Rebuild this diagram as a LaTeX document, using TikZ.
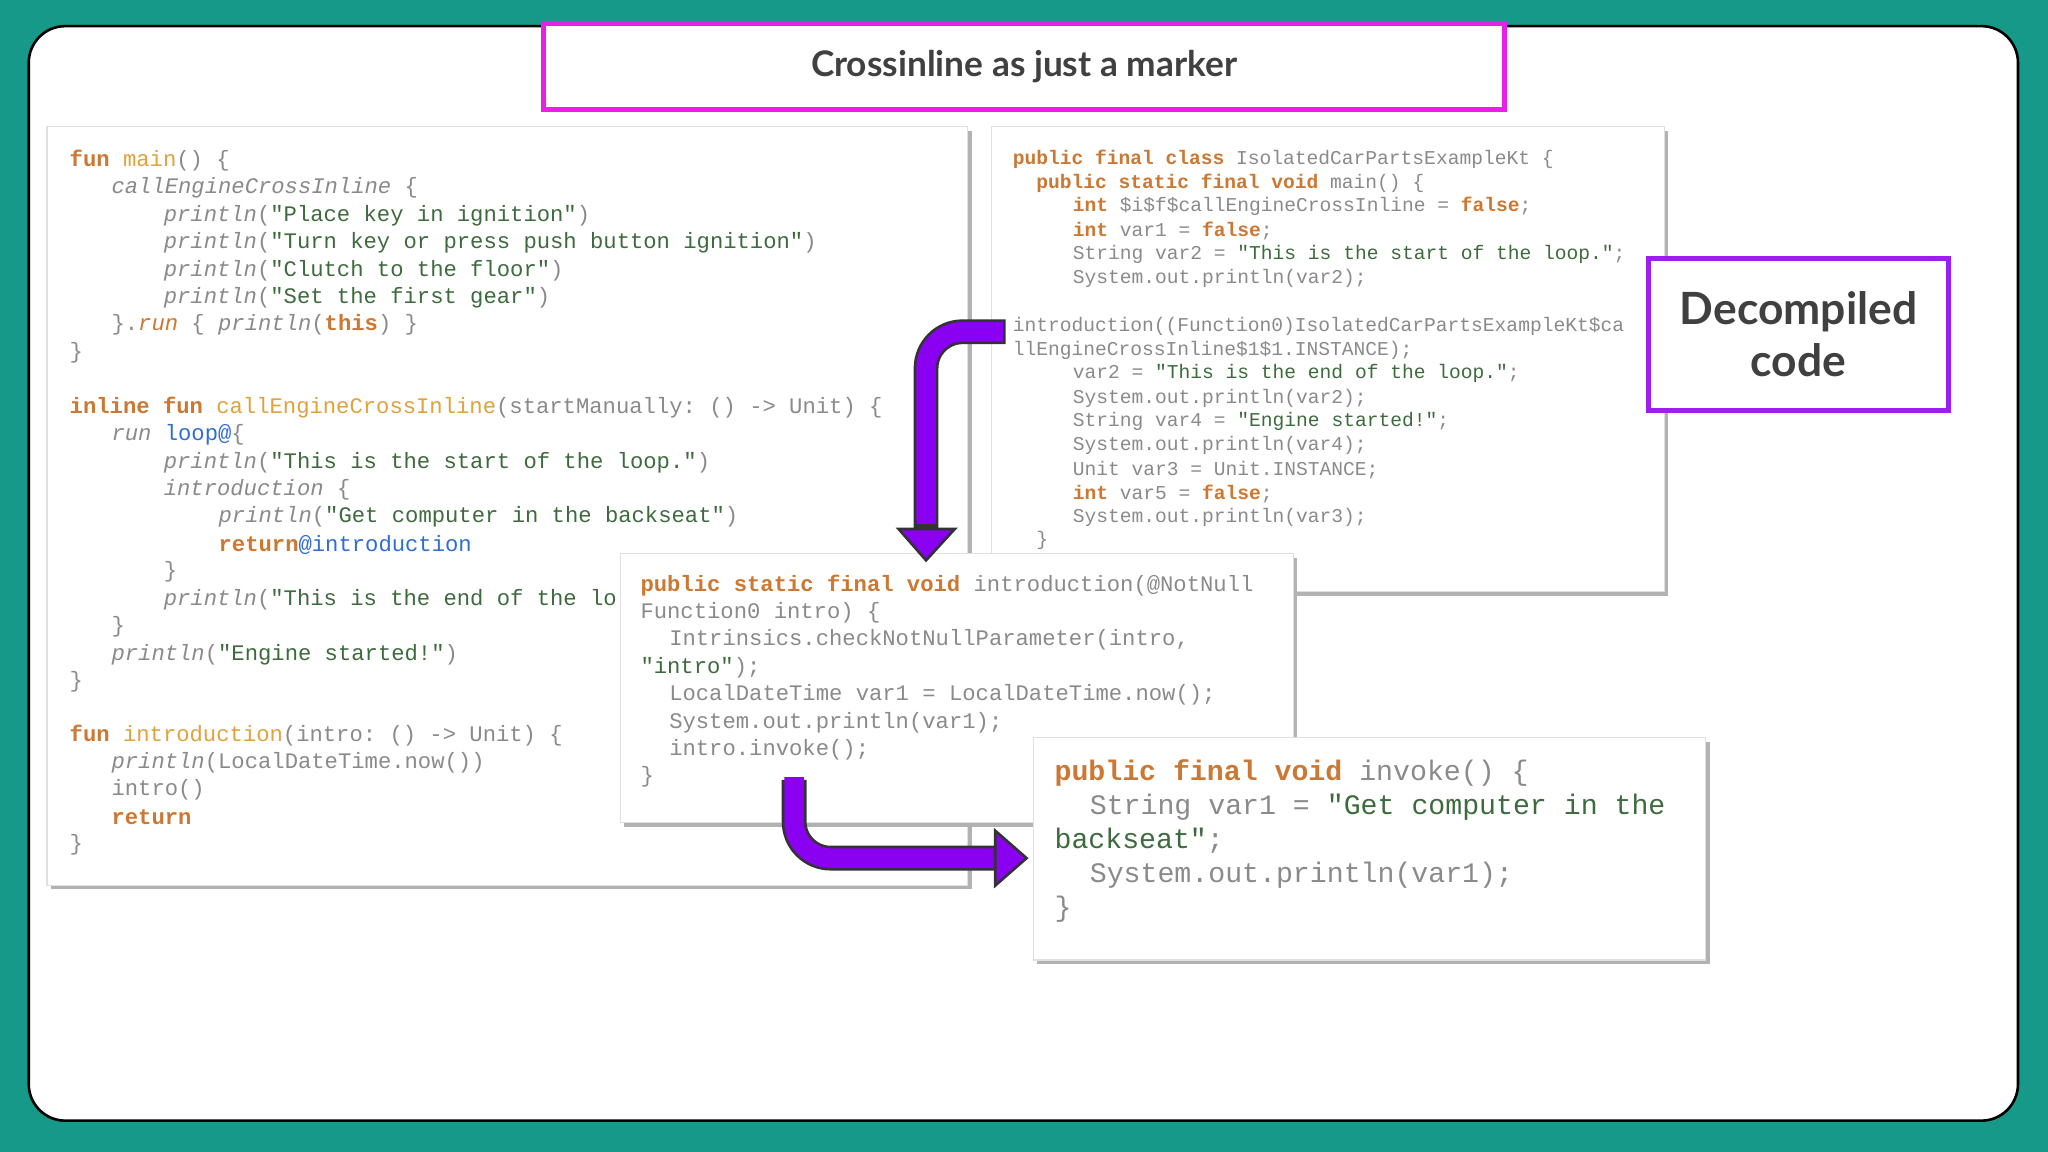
\documentclass[tikz,border=0pt]{standalone}
\usepackage{fontspec}
\setmainfont{Lato}
\setmonofont{Liberation Mono}
\definecolor{bg}{HTML}{17998A}
\definecolor{kw}{HTML}{CC7832}
\definecolor{fn}{HTML}{E0A23C}
\definecolor{gy}{HTML}{8A8A8A}
\definecolor{st}{HTML}{3E6B3E}
\definecolor{bl}{HTML}{2F6DD5}
\definecolor{mag}{HTML}{E91EE8}
\definecolor{pur}{HTML}{9D1FF0}
\definecolor{arr}{HTML}{8A00F0}
\newcommand\K[1]{\textcolor{kw}{\bfseries #1}}
\newcommand\F[1]{\textcolor{fn}{#1}}
\newcommand\G[1]{\textcolor{gy}{#1}}
\newcommand\St[1]{\textcolor{st}{#1}}
\newcommand\B[1]{\textcolor{bl}{#1}}
\newcommand\I[1]{\textcolor{gy}{\itshape #1}}
\newcommand\cl[3]{\node[anchor=west,inner sep=0pt] at (#1,#2) {#3};}
\tikzset{panel/.style={fill=white,draw=black!12,line width=0.4pt},
 shad/.style={fill=black!30,draw=none}}
\begin{document}
\begin{tikzpicture}[x=0.5pt,y=-0.5pt]
\useasboundingbox (0,0) rectangle (1568,882);
\fill[bg] (0,0) rectangle (1568,882);
\draw[fill=white,draw=black,line width=1pt,rounded corners=14pt] (22,20) rectangle (1545,858);
% title
\node[draw=mag,line width=2pt,fill=white,minimum width=368pt,minimum height=33pt,font=\bfseries\fontsize{13.5}{16}\selectfont,text=black!75] (title) at (784,51) {Crossinline as just a marker};
% panel 1
\fill[shad] (39,100) rectangle (744,681);
\draw[panel] (36,97) rectangle (741,678);
\begin{scope}[font=\ttfamily\fontsize{8.5}{10}\selectfont,text=gy]
\cl{53}{123}{\K{fun} \F{main}() \{}
\cl{85}{144}{\I{callEngineCrossInline} \{}
\cl{125}{165}{\I{println}(\St{"Place key in ignition"})}
\cl{125}{186}{\I{println}(\St{"Turn key or press push button ignition"})}
\cl{125}{207}{\I{println}(\St{"Clutch to the floor"})}
\cl{125}{228}{\I{println}(\St{"Set the first gear"})}
\cl{85}{249}{\}.\textcolor{kw}{\itshape run} \{ \I{println}(\K{this}) \}}
\cl{53}{270}{\}}
\cl{53}{312}{\K{inline fun} \F{callEngineCrossInline}(startManually: () -> Unit) \{}
\cl{85}{333}{\I{run} \B{loop@}\{}
\cl{125}{354}{\I{println}(\St{"This is the start of the loop."})}
\cl{125}{375}{\I{introduction} \{}
\cl{167}{396}{\I{println}(\St{"Get computer in the backseat"})}
\cl{167}{417}{\K{return}\B{@introduction}}
\cl{125}{438}{\}}
\cl{125}{459}{\I{println}(\St{"This is the end of the lo}}
\cl{85}{480}{\}}
\cl{85}{501}{\I{println}(\St{"Engine started!"})}
\cl{53}{522}{\}}
\cl{53}{563}{\K{fun} \F{introduction}(intro: () -> Unit) \{}
\cl{85}{584}{\I{println}(LocalDateTime.now())}
\cl{85}{605}{intro()}
\cl{85}{626}{\K{return}}
\cl{53}{647}{\}}
\end{scope}
% panel 2
\fill[shad] (762,100) rectangle (1277,456);
\draw[panel] (759,97) rectangle (1274,453);
\begin{scope}[font=\ttfamily\fontsize{7.5}{9}\selectfont,text=gy]
\cl{775}{122}{\K{public final class} IsolatedCarPartsExampleKt \{}
\cl{793}{140}{\K{public static final void} main() \{}
\cl{821}{158}{\K{int} \$i\$f\$callEngineCrossInline = \K{false};}
\cl{821}{177}{\K{int} var1 = \K{false};}
\cl{821}{195}{String var2 = \St{"This is the start of the loop."};}
\cl{821}{213}{System.out.println(var2);}
\cl{775}{250}{introduction((Function0)IsolatedCarPartsExampleKt\$ca}
\cl{775}{268}{llEngineCrossInline\$1\$1.INSTANCE);}
\cl{821}{286}{var2 = \St{"This is the end of the loop."};}
\cl{821}{305}{System.out.println(var2);}
\cl{821}{323}{String var4 = \St{"Engine started!"};}
\cl{821}{341}{System.out.println(var4);}
\cl{821}{360}{Unit var3 = Unit.INSTANCE;}
\cl{821}{378}{\K{int} var5 = \K{false};}
\cl{821}{396}{System.out.println(var3);}
\cl{793}{414}{\}}
\end{scope}
% panel 3
\fill[shad] (478,427) rectangle (993,633);
\draw[panel] (475,424) rectangle (990,630);
\begin{scope}[font=\ttfamily\fontsize{8.5}{10}\selectfont,text=gy]
\cl{490}{448}{\K{public static final void} introduction(@NotNull}
\cl{490}{469}{Function0 intro) \{}
\cl{512}{490}{Intrinsics.checkNotNullParameter(intro,}
\cl{490}{511}{\St{"intro"});}
\cl{512}{532}{LocalDateTime var1 = LocalDateTime.now();}
\cl{512}{553}{System.out.println(var1);}
\cl{512}{574}{intro.invoke();}
\cl{490}{595}{\}}
\end{scope}
% panel 4
\fill[shad] (794,568) rectangle (1309,738);
\draw[panel] (791,565) rectangle (1306,735);
\begin{scope}[font=\ttfamily\fontsize{10.8}{13}\selectfont,text=gy]
\cl{807}{592}{\K{public final void} invoke() \{}
\cl{834}{618}{String var1 = \St{"Get computer in the}}
\cl{807}{644}{\St{backseat"};}
\cl{834}{670}{System.out.println(var1);}
\cl{807}{696}{\}}
\end{scope}
% decompiled box
\node[draw=pur,line width=2pt,fill=white,minimum width=115pt,minimum height=58pt,align=center,font=\bfseries\fontsize{17}{20}\selectfont,text=black!75] (dec) at (1377,256) {Decompiled\\code};
% arrows
\coordinate (a1s) at (770,254);
\coordinate (a1c) at (709,254);
\coordinate (a1e) at (709,405);
\draw[black!80,line width=9.5pt,rounded corners=14pt] (a1s) -- (a1c) -- (a1e);
\draw[arr,line width=7.5pt,rounded corners=14pt] ([xshift=-1]a1s) -- (a1c) -- ([yshift=2]a1e);
\filldraw[fill=arr,draw=black!80,line width=1pt] (688,405) -- (731,405) -- (709,429) -- cycle;
\coordinate (a2s) at (608,597);
\coordinate (a2c) at (608,657);
\coordinate (a2e) at (762,657);
\draw[black!80,line width=9.5pt,rounded corners=14pt] (a2s) -- (a2c) -- (a2e);
\draw[arr,line width=7.5pt,rounded corners=14pt] ([yshift=1]a2s) -- (a2c) -- ([xshift=2]a2e);
\filldraw[fill=arr,draw=black!80,line width=1pt] (762,636) -- (762,678) -- (786,657) -- cycle;
\end{tikzpicture}
\end{document}
